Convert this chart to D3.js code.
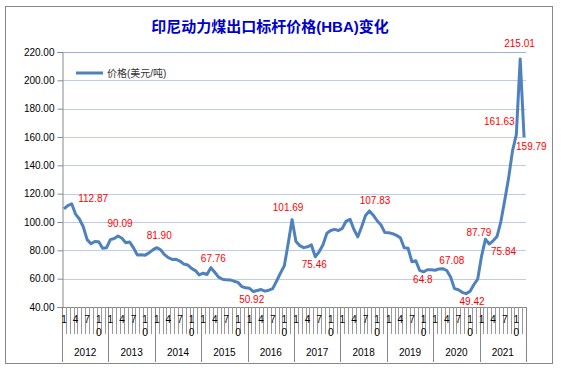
<!DOCTYPE html>
<html>
<head>
<meta charset="utf-8">
<script src="https://cdn.jsdelivr.net/npm/d3@7"></script>
<style>
  body { margin: 0; background: #fff; }
  text { font-family: "Liberation Sans", Arial, "Noto Sans CJK SC", sans-serif; }
</style>
</head>
<body>
<div id="chart"></div>
<script>
var width = 561;
var height = 373;

var title = "印尼动力煤出口标杆价格(HBA)变化";
var seriesName = "价格(美元/吨)";

var years = [2012, 2013, 2014, 2015, 2016, 2017, 2018, 2019, 2020, 2021];
var months = [1, 2, 3, 4, 5, 6, 7, 8, 9, 10, 11, 12];
var shownMonths = [1, 4, 7, 10];
var yTicks = [40, 60, 80, 100, 120, 140, 160, 180, 200, 220];

// HBA monthly, USD/t
var p2012 = [109.29, 111.58, 112.87, 105.61, 102.12, 96.65, 87.56, 84.65, 86.21, 86.04, 81.44, 81.75];
var p2013 = [87.55, 88.35, 90.09, 88.56, 85.33, 85.87, 81.69, 76.70, 76.89, 76.61, 78.19, 80.31];
var p2014 = [81.90, 80.44, 77.01, 74.81, 73.60, 73.64, 72.45, 70.29, 69.69, 67.26, 65.70, 62.65];
var p2015 = [63.84, 62.92, 67.76, 64.48, 61.08, 59.59, 59.16, 59.14, 58.21, 57.39, 54.43, 53.51];
var p2016 = [53.20, 50.92, 51.62, 52.32, 51.20, 51.87, 53.00, 58.37, 63.93, 69.07, 84.89, 101.69];
var p2017 = [86.23, 83.32, 81.90, 82.51, 83.81, 75.46, 78.95, 83.97, 92.03, 93.99, 94.80, 94.04];
var p2018 = [95.54, 100.69, 101.86, 94.75, 89.53, 96.61, 104.65, 107.83, 104.81, 100.89, 97.90, 92.51];
var p2019 = [92.41, 91.80, 90.57, 88.85, 81.86, 81.48, 71.92, 72.67, 65.79, 64.80, 66.27, 66.30];
var p2020 = [65.93, 66.89, 67.08, 65.77, 61.11, 52.98, 52.16, 50.34, 49.42, 51.00, 55.71, 59.65];
var p2021 = [75.84, 87.79, 84.47, 86.68, 89.74, 100.33, 115.35, 130.99, 150.03, 161.63, 215.01, 159.79];

// labelled points: [year, month]
var labelled = [[2012, 3], [2013, 3], [2014, 1], [2015, 3], [2016, 2], [2016, 12], [2017, 6],
                [2018, 8], [2019, 10], [2020, 3], [2020, 9], [2021, 1], [2021, 2], [2021, 10],
                [2021, 11], [2021, 12]];

var prices = [].concat(p2012, p2013, p2014, p2015, p2016, p2017, p2018, p2019, p2020, p2021);

var data = [];
years.forEach(function(y, yi) {
    months.forEach(function(m, mi) {
        data.push({year: y, month: m, value: prices[yi * 12 + mi], i: yi * 12 + mi});
    });
});

var svg = d3.select("#chart")
            .append("svg")
            .attr("width", width)
            .attr("height", height);

// chart border
svg.append("rect")
    .attr("x", 5.5).attr("y", 6.5)
    .attr("width", 547).attr("height", 357)
    .attr("fill", "#fff")
    .attr("stroke", "#878787");

var x = d3.scaleBand()
    .domain(data.map(function(d) { return d.i; }))
    .range([62, 526])
    .paddingInner(0).paddingOuter(0);

var y = d3.scaleLinear()
    .domain([40, 220])
    .range([307, 52]);

var cx = function(d) { return x(d.i) + x.bandwidth() / 2; };

// gridlines
svg.append("g").selectAll("line")
    .data(yTicks.slice(1))
    .enter().append("line")
    .attr("x1", 62).attr("x2", 526)
    .attr("y1", function(d) { return Math.round(y(d)) + 0.5; })
    .attr("y2", function(d) { return Math.round(y(d)) + 0.5; })
    .attr("stroke", function(d) { return d == 220 ? "#98b2db" : "#bccde9"; })
    .attr("stroke-width", 1);

// y axis
var yAxis = d3.axisLeft(y)
    .tickValues(yTicks)
    .tickFormat(d3.format(".2f"))
    .tickSize(5)
    .tickPadding(3);

var gy = svg.append("g")
    .attr("transform", "translate(62.5,0)")
    .call(yAxis);
gy.select(".domain").attr("stroke", "#878787");
gy.selectAll(".tick line").attr("stroke", "#878787");
gy.selectAll(".tick text")
    .attr("font-size", 10)
    .attr("fill", "#000")
    .style("font-family", "'Liberation Sans', Arial, sans-serif");

// x axis: month ticks + year separators
var gx = svg.append("g");
gx.append("line")
    .attr("x1", 62).attr("x2", 526)
    .attr("y1", 307.5).attr("y2", 307.5)
    .attr("stroke", "#878787");

gx.selectAll("line.mt")
    .data(data.filter(function(d) { return d.month != 1; }))
    .enter().append("line")
    .attr("class", "mt")
    .attr("x1", function(d) { return Math.round(x(d.i)) + 0.5; })
    .attr("x2", function(d) { return Math.round(x(d.i)) + 0.5; })
    .attr("y1", 307).attr("y2", 334)
    .attr("stroke", "#9a9a9a");

var yearEdges = years.map(function(yr, k) { return k * 12; }).concat([120]);
gx.selectAll("line.yt")
    .data(yearEdges)
    .enter().append("line")
    .attr("class", "yt")
    .attr("x1", function(k) { return Math.round(k < 120 ? x(k) : x.range()[1]) + 0.5; })
    .attr("x2", function(k) { return Math.round(k < 120 ? x(k) : x.range()[1]) + 0.5; })
    .attr("y1", 307).attr("y2", 362)
    .attr("stroke", "#878787");

var monthLab = gx.selectAll("text.ml")
    .data(data.filter(function(d) { return shownMonths.indexOf(d.month) >= 0; }))
    .enter().append("text")
    .attr("class", "ml")
    .attr("font-size", 10)
    .attr("fill", "#000")
    .attr("text-anchor", "middle");
monthLab.each(function(d) {
    var s = String(d.month);
    var t = d3.select(this);
    for (var c = 0; c < s.length; c++) {
        t.append("tspan")
            .attr("x", cx(d))
            .attr("y", 323 + c * 13)
            .text(s[c]);
    }
});

gx.selectAll("text.yl")
    .data(years)
    .enter().append("text")
    .attr("class", "yl")
    .attr("x", function(yr, k) { return x(k * 12) + x.bandwidth() * 6; })
    .attr("y", 356)
    .attr("text-anchor", "middle")
    .attr("font-size", 10)
    .attr("fill", "#000")
    .text(function(d) { return d; });

// line
var line = d3.line()
    .x(cx)
    .y(function(d) { return y(d.value); });

svg.append("path")
    .datum(data)
    .attr("fill", "none")
    .attr("stroke", "#4f81bd")
    .attr("stroke-width", 3)
    .attr("stroke-linejoin", "round")
    .attr("d", line);

// data labels, offsets of text centre from the point
var labelOffset = [[21.5, -5], [2, -13], [2.5, -12], [2.5, -9], [-1.7, 7.7], [-4, -12], [-1, 7.7],
                   [5.6, -10], [-0.7, 7.3], [9, -8], [6, 7.5], [22, -4.4], [-6.5, -6.5], [-17, -13.4],
                   [-0.7, -15.3], [7.3, 9]];

svg.append("g").selectAll("text")
    .data(labelled)
    .enter().append("text")
    .attr("x", function(l, k) {
        var d = data[(l[0] - years[0]) * 12 + l[1] - 1];
        return cx(d) + labelOffset[k][0];
    })
    .attr("y", function(l, k) {
        var d = data[(l[0] - years[0]) * 12 + l[1] - 1];
        return y(d.value) + labelOffset[k][1];
    })
    .attr("dy", "0.35em")
    .attr("text-anchor", "middle")
    .attr("font-size", 10)
    .attr("fill", "#ff0000")
    .text(function(l) {
        var v = data[(l[0] - years[0]) * 12 + l[1] - 1].value;
        return (l[0] == 2019 && l[1] == 10) ? String(+v.toFixed(2)) : v.toFixed(2);
    });

// legend
svg.append("line")
    .attr("x1", 76).attr("x2", 103)
    .attr("y1", 73).attr("y2", 73)
    .attr("stroke", "#4f81bd")
    .attr("stroke-width", 3);
svg.append("text")
    .attr("x", 107).attr("y", 73)
    .attr("dy", "0.35em")
    .attr("font-size", 10)
    .attr("fill", "#333")
    .text(seriesName);

// title
svg.append("text")
    .attr("x", 270).attr("y", 27)
    .attr("dy", "0.35em")
    .attr("text-anchor", "middle")
    .attr("font-size", 15)
    .attr("font-weight", "bold")
    .attr("fill", "#0000cc")
    .text(title);
</script>
</body>
</html>
